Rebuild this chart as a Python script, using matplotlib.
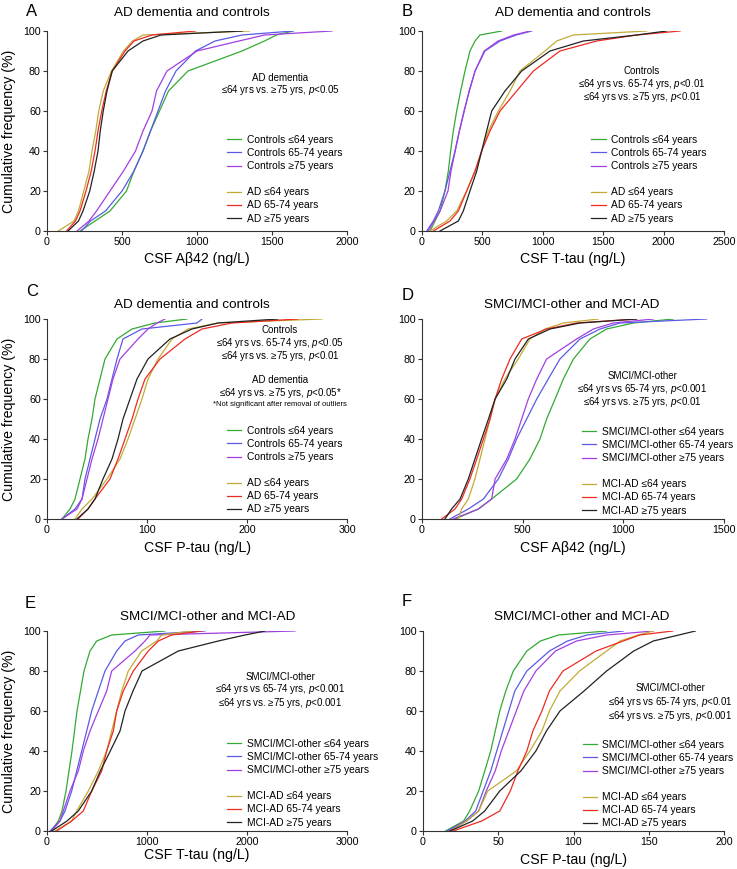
import matplotlib
matplotlib.use("Agg")
import matplotlib.pyplot as plt
from matplotlib.lines import Line2D

plt.rcParams['font.family'] = ['Liberation Sans', 'DejaVu Sans']
plt.rcParams['mathtext.fontset'] = 'custom'
plt.rcParams['mathtext.rm'] = 'Liberation Sans'
plt.rcParams['mathtext.it'] = 'Liberation Sans:italic'

# cumulative frequency levels (%) shared by every curve
levels = [0, 5, 10, 20, 30, 40, 50, 60, 70, 80, 90, 95, 98, 100]

# A: AD dementia and controls, CSF Abeta42
a_ctrl_le64 = [220, 320, 420, 530, 580, 640, 690, 750, 810, 940, 1300, 1450, 1530, 1640]
a_ctrl_6574 = [230, 290, 390, 500, 580, 640, 690, 740, 790, 860, 990, 1120, 1300, 1640]
a_ctrl_ge75 = [200, 280, 330, 420, 510, 590, 640, 700, 730, 800, 1000, 1280, 1450, 1900]
a_ad_le64 = [75, 180, 210, 245, 280, 300, 325, 345, 375, 430, 510, 570, 640, 1350]
a_ad_6574 = [130, 190, 220, 260, 295, 320, 340, 365, 395, 435, 520, 580, 700, 990]
a_ad_ge75 = [140, 210, 240, 285, 315, 340, 355, 375, 400, 435, 540, 640, 760, 1300]

# B: AD dementia and controls, CSF T-tau
b_ctrl_le64 = [66, 108, 149, 190, 218, 237, 259, 287, 320, 356, 397, 439, 480, 660]
b_ctrl_6574 = [39, 94, 135, 190, 232, 273, 309, 348, 392, 439, 521, 646, 780, 908]
b_ctrl_ge75 = [50, 100, 150, 215, 240, 275, 310, 350, 390, 440, 515, 630, 760, 895]
b_ad_le64 = [66, 204, 287, 370, 439, 494, 549, 632, 729, 811, 1018, 1115, 1253, 1860]
b_ad_6574 = [94, 232, 301, 370, 439, 494, 563, 646, 784, 922, 1142, 1446, 1777, 2136]
b_ad_ge75 = [149, 301, 342, 397, 453, 494, 535, 577, 687, 825, 1060, 1336, 1777, 2025]

# C: AD dementia and controls, CSF P-tau
c_ctrl_le64 = [15, 23, 28, 33, 38, 41, 45, 48, 53, 58, 70, 85, 108, 140]
c_ctrl_6574 = [15, 28, 35, 38, 43, 48, 53, 60, 65, 70, 76, 95, 150, 155]
c_ctrl_ge75 = [15, 30, 35, 40, 45, 51, 56, 61, 66, 73, 91, 101, 110, 118]
c_ad_le64 = [28, 35, 45, 60, 73, 81, 88, 95, 101, 111, 125, 141, 171, 275]
c_ad_6574 = [31, 41, 48, 63, 71, 78, 85, 91, 98, 113, 138, 155, 185, 251]
c_ad_ge75 = [30, 41, 48, 56, 65, 71, 76, 83, 90, 101, 123, 145, 171, 231]

# D: SMCI/MCI-other and MCI-AD, CSF Abeta42
d_smci_le64 = [164, 280, 346, 470, 536, 586, 619, 661, 702, 752, 834, 917, 1050, 1248]
d_smci_6574 = [139, 230, 305, 379, 429, 470, 520, 570, 627, 685, 785, 884, 983, 1414]
d_smci_ge75 = [156, 280, 346, 363, 421, 462, 495, 528, 570, 619, 768, 851, 950, 1149]
d_mci_le64 = [180, 197, 230, 263, 288, 313, 338, 363, 412, 478, 536, 611, 702, 876]
d_mci_6574 = [98, 164, 197, 238, 272, 305, 338, 363, 396, 437, 495, 619, 768, 1066]
d_mci_ge75 = [114, 147, 189, 230, 263, 296, 330, 363, 421, 462, 528, 636, 785, 1066]

# E: SMCI/MCI-other and MCI-AD, CSF T-tau
e_smci_le64 = [40, 113, 150, 190, 220, 250, 275, 300, 335, 370, 430, 497, 647, 1180]
e_smci_6574 = [30, 130, 180, 247, 297, 347, 397, 447, 513, 580, 697, 780, 913, 1580]
e_smci_ge75 = [47, 130, 163, 230, 313, 363, 430, 513, 597, 647, 880, 980, 1030, 2480]
e_mci_le64 = [80, 247, 297, 413, 513, 597, 647, 697, 747, 813, 947, 1097, 1147, 1447]
e_mci_6574 = [97, 247, 363, 447, 547, 597, 663, 697, 763, 863, 1013, 1113, 1247, 1547]
e_mci_ge75 = [47, 200, 313, 447, 533, 633, 730, 780, 860, 950, 1313, 1713, 1980, 2180]

# F: SMCI/MCI-other and MCI-AD, CSF P-tau
f_smci_le64 = [15, 27, 31, 37, 41, 45, 48, 51, 55, 60, 69, 78, 90, 122]
f_smci_6574 = [16, 28, 35, 40, 45, 49, 53, 57, 61, 69, 84, 96, 109, 133]
f_smci_ge75 = [17, 29, 37, 42, 48, 52, 57, 62, 67, 75, 88, 102, 122, 153]
f_mci_le64 = [18, 29, 37, 43, 62, 71, 79, 84, 91, 104, 122, 131, 143, 153]
f_mci_6574 = [20, 39, 51, 58, 63, 69, 73, 79, 84, 93, 115, 133, 144, 166]
f_mci_ge75 = [18, 33, 41, 51, 65, 75, 82, 91, 107, 122, 140, 153, 170, 181]

ad_labels = ["Controls \u226464 years", "Controls 65-74 years", "Controls \u226575 years",
             "AD \u226464 years", "AD 65-74 years", "AD \u226575 years"]
mci_labels = ["SMCI/MCI-other \u226464 years", "SMCI/MCI-other 65-74 years",
              "SMCI/MCI-other \u226575 years",
              "MCI-AD \u226464 years", "MCI-AD 65-74 years", "MCI-AD \u226575 years"]
colors = ["#33aa33", "#5a5ae6", "#a23fe0", "#c2ab35", "#ee2a22", "#222222"]

W, H = 737, 869
fig = plt.figure(figsize=(W / 100, H / 100), dpi=100)


def px(x, y):
    return x / W, 1 - y / H


panels = [
    # letter, (left, top, width), xmax, xticks, curves, labels, title, xlabel
    ("A", (47, 31, 300), 2000, [0, 500, 1000, 1500, 2000],
     [a_ctrl_le64, a_ctrl_6574, a_ctrl_ge75, a_ad_le64, a_ad_6574, a_ad_ge75],
     ad_labels, "AD dementia and controls", "CSF A\u03b242 (ng/L)"),
    ("B", (422, 31, 302), 2500, [0, 500, 1000, 1500, 2000, 2500],
     [b_ctrl_le64, b_ctrl_6574, b_ctrl_ge75, b_ad_le64, b_ad_6574, b_ad_ge75],
     ad_labels, "AD dementia and controls", "CSF T-tau (ng/L)"),
    ("C", (47, 319, 300), 300, [0, 100, 200, 300],
     [c_ctrl_le64, c_ctrl_6574, c_ctrl_ge75, c_ad_le64, c_ad_6574, c_ad_ge75],
     ad_labels, "AD dementia and controls", "CSF P-tau (ng/L)"),
    ("D", (422, 319, 302), 1500, [0, 500, 1000, 1500],
     [d_smci_le64, d_smci_6574, d_smci_ge75, d_mci_le64, d_mci_6574, d_mci_ge75],
     mci_labels, "SMCI/MCI-other and MCI-AD", "CSF A\u03b242 (ng/L)"),
    ("E", (47, 631, 300), 3000, [0, 1000, 2000, 3000],
     [e_smci_le64, e_smci_6574, e_smci_ge75, e_mci_le64, e_mci_6574, e_mci_ge75],
     mci_labels, "SMCI/MCI-other and MCI-AD", "CSF T-tau (ng/L)"),
    ("F", (423, 631, 301), 200, [0, 50, 100, 150, 200],
     [f_smci_le64, f_smci_6574, f_smci_ge75, f_mci_le64, f_mci_6574, f_mci_ge75],
     mci_labels, "SMCI/MCI-other and MCI-AD", "CSF P-tau (ng/L)"),
]

# legend anchor (axes fraction), letter pos, title pos, xlabel y (pixels)
legend_pos = {"A": (0.60, 0.48), "B": (0.56, 0.48), "C": (0.60, 0.465),
              "D": (0.53, 0.46), "E": (0.60, 0.46), "F": (0.53, 0.455)}
letter_pos = {"A": (26, 11), "B": (402, 11), "C": (26, 292),
              "D": (402, 296), "E": (25, 603), "F": (402, 601)}
title_pos = {"A": (192, 13), "B": (573, 13), "C": (192, 305),
             "D": (572, 305), "E": (208, 617), "F": (582, 617)}
xlabel_y = {"A": 259, "B": 259, "C": 548, "D": 548, "E": 855, "F": 860}

notes = {
    "A": [(280, 78, "AD dementia"), (280, 90, "\u226464 yrs vs. \u226575 yrs, $p$<0.05")],
    "B": [(642, 71, "Controls"), (642, 84, "\u226464 yrs vs. 65-74 yrs, $p$<0.01"),
          (642, 97, "\u226464 yrs vs. \u226575 yrs, $p$<0.01")],
    "C": [(280, 330, "Controls"), (280, 342.5, "\u226464 yrs vs. 65-74 yrs, $p$<0.05"),
          (280, 355.5, "\u226464 yrs vs. \u226575 yrs, $p$<0.01"),
          (280, 380, "AD dementia"), (280, 393, "\u226464 yrs vs. \u226575 yrs, $p$<0.05*")],
    "D": [(642, 376, "SMCI/MCI-other"), (642, 389, "\u226464 yrs vs 65-74 yrs, $p$<0.001"),
          (642, 402, "\u226464 yrs vs. \u226575 yrs, $p$<0.01")],
    "E": [(280, 677, "SMCI/MCI-other"), (280, 689.5, "\u226464 yrs vs 65-74 yrs, $p$<0.001"),
          (280, 702.5, "\u226464 yrs vs. \u226575 yrs, $p$<0.001")],
    "F": [(670, 688, "SMCI/MCI-other"), (670, 702, "\u226464 yrs vs 65-74 yrs, $p$<0.01"),
          (670, 716, "\u226464 yrs vs. \u226575 yrs, $p$<0.001")],
}

for letter, (left, top, width), xmax, xticks, curves, labels, title, xlabel in panels:
    ax = fig.add_axes([left / W, 1 - (top + 200) / H, width / W, 200 / H])
    lines = []
    for vals, c, lab in zip(curves, colors, labels):
        ln, = ax.plot(vals, levels, color=c, lw=0.9, label=lab)
        lines.append(ln)
    ax.set_xlim(0, xmax)
    ax.set_ylim(0, 100)
    ax.set_xticks(xticks)
    ax.set_yticks([0, 20, 40, 60, 80, 100])
    for s in ["top", "right"]:
        ax.spines[s].set_visible(False)
    for s in ["left", "bottom"]:
        ax.spines[s].set_color("#333333")
        ax.spines[s].set_linewidth(0.8)
    ax.tick_params(direction="out", length=3, width=0.8, labelsize=7.7, pad=1.5, color="#333333")

    blank = Line2D([], [], color="none")
    handles = lines[:3] + [blank] + lines[3:]
    labs = labels[:3] + [""] + labels[3:]
    ax.legend(handles, labs, loc="upper left", bbox_to_anchor=legend_pos[letter],
              frameon=False, fontsize=7.4, handlelength=1.4, handletextpad=0.5,
              labelspacing=0.3, borderpad=0, borderaxespad=0)

    lx, ly = letter_pos[letter]
    fig.text(*px(lx, ly), letter, fontsize=12, ha="left", va="center")
    tx, ty = title_pos[letter]
    fig.text(*px(tx, ty), title, fontsize=9.7, ha="center", va="center")
    fig.text(*px(left + width / 2, xlabel_y[letter]), xlabel, fontsize=10.2,
             ha="center", va="center")
    for nx, ny, s in notes[letter]:
        fig.text(*px(nx, ny), s, fontsize=7.0, ha="center", va="center")

fig.text(*px(280, 404), "*Not significant after removal of outliers", fontsize=5.5,
         ha="center", va="center")

for yc in [131, 419, 731]:
    fig.text(*px(9, yc), "Cumulative frequency (%)", fontsize=10.2, rotation=90,
             ha="center", va="center")

fig.savefig("out.png", dpi=100)
